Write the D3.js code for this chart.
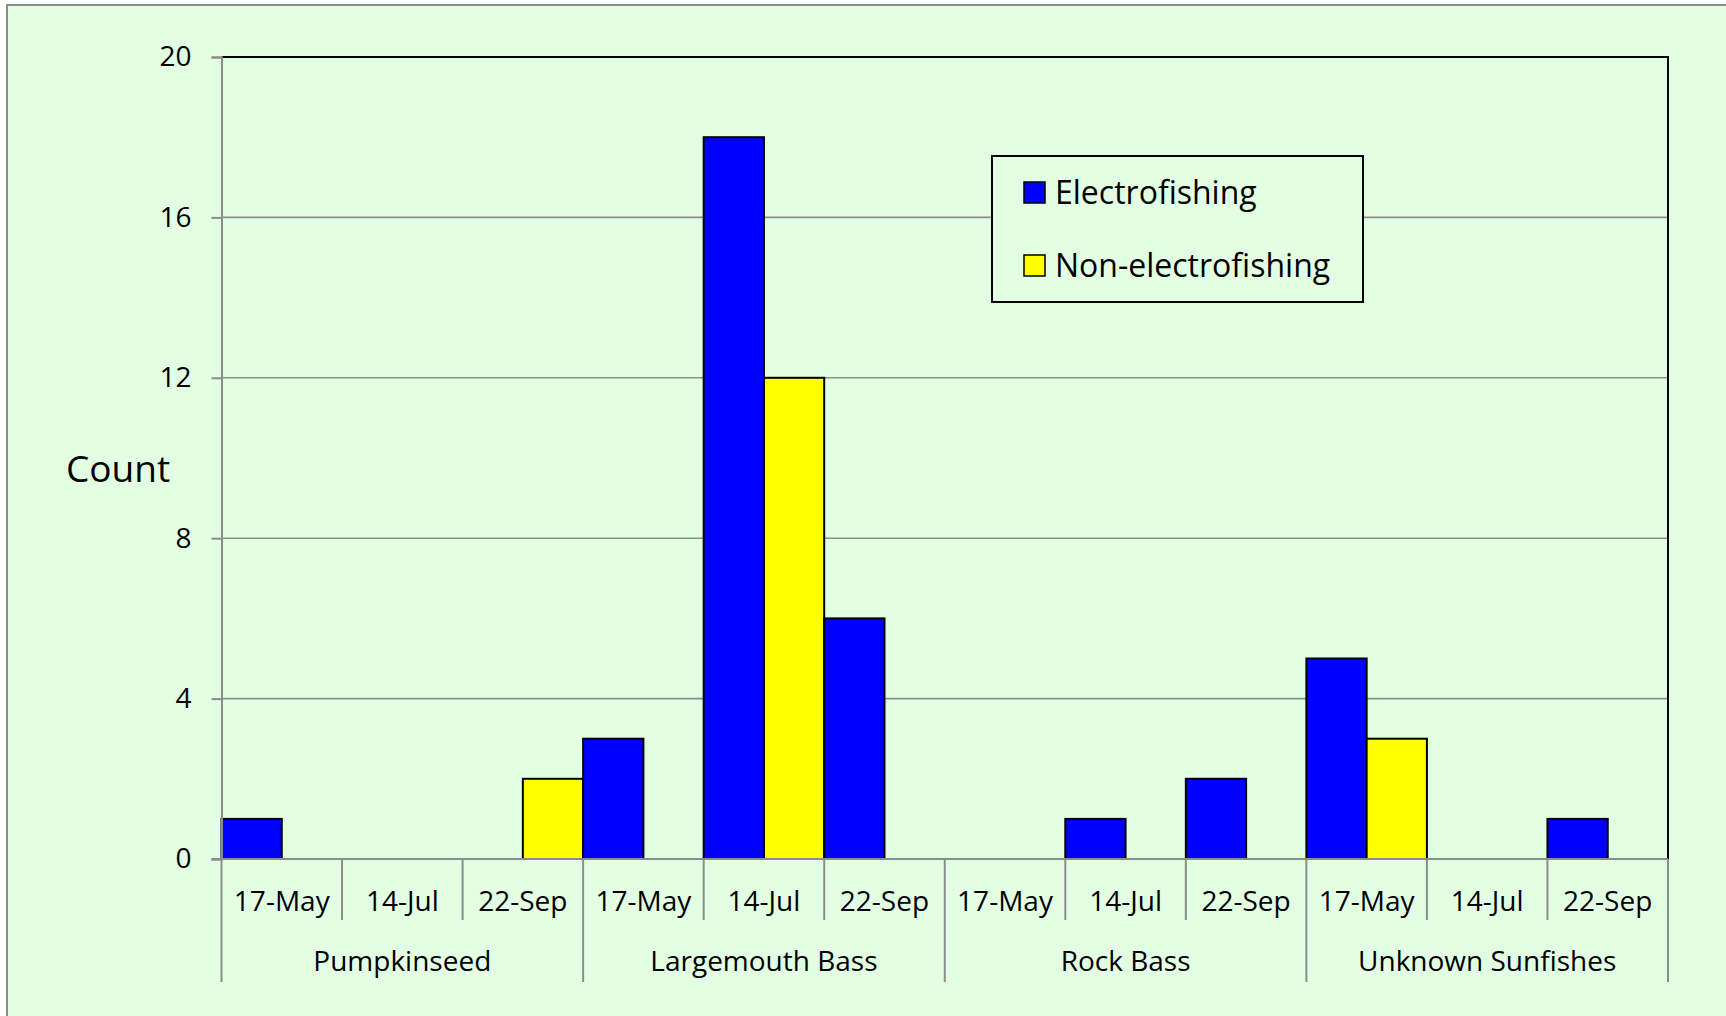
<!DOCTYPE html>
<html>
<head>
<meta charset="utf-8">
<script src="https://cdn.jsdelivr.net/npm/d3@7"></script>
<style>
html, body { margin: 0; padding: 0; background: #ffffff; }
svg { display: block; }
text { font-family: "Open Sans", sans-serif; fill: #000; }
</style>
</head>
<body>
<svg id="chart" width="1726" height="1016"></svg>
<script>
// ---- data ----
const groups = ["Pumpkinseed", "Largemouth Bass", "Rock Bass", "Unknown Sunfishes"];
const dates = ["17-May", "14-Jul", "22-Sep"];
const seriesNames = ["Electrofishing", "Non-electrofishing"];
const electrofishing = [1, 0, 0, 3, 18, 6, 0, 1, 2, 5, 0, 1];
const nonElectrofishing = [0, 0, 2, 0, 12, 0, 0, 0, 0, 3, 0, 0];
const yTicks = [0, 4, 8, 12, 16, 20];
const colors = ["#0000ff", "#ffff00"];

(function () {
// ---- layout ----
const W = 1726, H = 1016;
const pLeft = 221.5, pRight = 1668, pTop = 57, pBottom = 859;

const svg = d3.select("#chart");
svg.append("rect").attr("x", 7).attr("y", 5).attr("width", W + 10).attr("height", H + 10)
  .attr("fill", "#e3ffe3").attr("stroke", "#8c8c8c").attr("stroke-width", 2);

const slots = [];
groups.forEach(g => dates.forEach(d => slots.push(g + "|" + d)));

const x = d3.scaleBand().domain(slots).range([pLeft, pRight]).padding(0);
const xs = d3.scaleBand().domain(seriesNames).range([0, x.bandwidth()]).padding(0);
const y = d3.scaleLinear().domain([0, 20]).range([pBottom, pTop]);

// gridlines
svg.append("g").selectAll("line").data(yTicks.filter(t => t > 0 && t < 20)).join("line")
  .attr("x1", pLeft).attr("x2", pRight)
  .attr("y1", d => y(d)).attr("y2", d => y(d))
  .attr("stroke", "#8c8c8c").attr("stroke-width", 1.6);

// plot border top & right (black)
svg.append("path")
  .attr("d", `M${pLeft},${y(20)}H${pRight}V${pBottom}`)
  .attr("fill", "none").attr("stroke", "#000").attr("stroke-width", 2);

// bars
const rows = slots.map((s, i) => ({ slot: s, vals: [electrofishing[i], nonElectrofishing[i]] }));
const bg = svg.append("g");
rows.forEach(r => {
  r.vals.forEach((v, k) => {
    if (v <= 0) return;
    bg.append("rect")
      .attr("x", x(r.slot) + xs(seriesNames[k]))
      .attr("y", y(v))
      .attr("width", xs.bandwidth())
      .attr("height", y(0) - y(v))
      .attr("fill", colors[k])
      .attr("stroke", "#000").attr("stroke-width", 2);
  });
});

// y axis
const yAxis = d3.axisLeft(y).tickValues(yTicks).tickSize(10).tickPadding(20).tickFormat(d3.format("d"));
const gy = svg.append("g").attr("transform", `translate(${pLeft},0)`).call(yAxis);
gy.select(".domain").attr("stroke", "#8c8c8c").attr("stroke-width", 2);
gy.selectAll(".tick line").attr("stroke", "#8c8c8c").attr("stroke-width", 2);
gy.selectAll(".tick text").attr("font-size", 28).attr("font-family", "Open Sans").attr("fill", "#000");

// x axis baseline
svg.append("line").attr("x1", pLeft - 10).attr("x2", pRight).attr("y1", pBottom).attr("y2", pBottom)
  .attr("stroke", "#8c8c8c").attr("stroke-width", 2);

// date separators
const dateBounds = d3.range(slots.length + 1);
svg.append("g").selectAll("line").data(dateBounds).join("line")
  .attr("x1", i => i < slots.length ? x(slots[i]) : pRight)
  .attr("x2", i => i < slots.length ? x(slots[i]) : pRight)
  .attr("y1", pBottom).attr("y2", i => i % dates.length === 0 ? 982 : 920)
  .attr("stroke", "#8c8c8c").attr("stroke-width", 2);

// date labels
svg.append("g").selectAll("text").data(slots).join("text")
  .attr("x", s => x(s) + x.bandwidth() / 2)
  .attr("y", 911)
  .attr("text-anchor", "middle")
  .attr("font-size", 28)
  .text(s => s.split("|")[1]);

// group labels
svg.append("g").selectAll("text").data(groups).join("text")
  .attr("x", g => (x(g + "|" + dates[0]) + x(g + "|" + dates[dates.length - 1]) + x.bandwidth()) / 2)
  .attr("y", 971)
  .attr("text-anchor", "middle")
  .attr("font-size", 28)
  .text(g => g);

// y title
svg.append("text").attr("x", 66).attr("y", 482).attr("font-size", 37).text("Count");

// legend
const lg = svg.append("g");
lg.append("rect").attr("x", 992).attr("y", 156).attr("width", 371).attr("height", 146)
  .attr("fill", "#e3ffe3").attr("stroke", "#000").attr("stroke-width", 2);
seriesNames.forEach((n, i) => {
  const cy = 192.5 + i * 73;
  lg.append("rect").attr("x", 1024).attr("y", cy - 10.5).attr("width", 21).attr("height", 21)
    .attr("fill", colors[i]).attr("stroke", "#000").attr("stroke-width", 1.5);
  lg.append("text").attr("x", 1055).attr("y", cy + 11).attr("font-size", 32).text(n);
});
})();
</script>
</body>
</html>
